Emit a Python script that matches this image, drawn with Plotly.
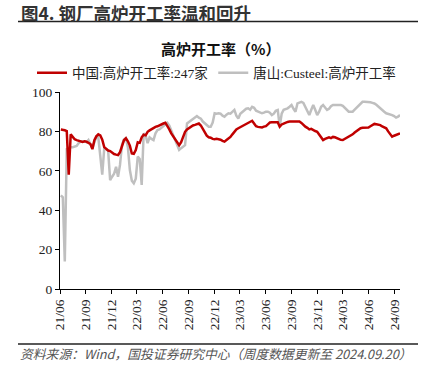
import pandas as pd
import plotly.graph_objects as go

dates = pd.date_range("2021-06-04", "2024-09-20", freq="7D")

china_247 = [
    81.0, 80.9, 80.6, 80.2, 58.0, 78.5, 77.2, 76.0, 75.6, 75.2,
    75.0, 74.6, 75.0, 74.8, 74.2, 73.6, 71.0, 75.5, 77.5, 78.5,
    78.0, 75.8, 72.0, 71.0, 70.3, 70.0, 69.2, 68.5, 68.2, 68.0,
    69.5, 72.5, 75.5, 76.5, 75.0, 72.8, 68.8, 68.6, 70.5, 74.5,
    74.2, 77.0, 78.3, 78.0, 79.8, 80.5, 81.2, 81.8, 82.3, 82.6,
    83.2, 83.5, 84.0, 84.4, 83.0, 81.0, 79.0, 77.5, 75.8, 74.3,
    73.0, 74.5, 77.5, 79.8, 81.0, 81.8, 82.4, 83.0, 83.3, 83.6,
    84.0, 83.0, 81.0, 79.0, 77.8, 77.0, 76.8, 76.2, 76.0, 76.2,
    76.0, 75.8, 75.2, 74.8, 75.6, 76.3, 77.2, 78.5, 80.0, 81.0,
    81.6, 82.2, 82.6, 83.2, 83.6, 84.3, 84.8, 85.4, 84.0, 82.6,
    82.3, 82.0, 82.0, 82.4, 82.7, 83.6, 84.5, 84.6, 84.6, 84.5,
    84.6, 82.4, 83.5, 84.0, 84.5, 84.8, 85.0, 85.0, 85.1, 84.9,
    85.0, 85.0, 84.3, 83.2, 82.4, 81.8, 81.0, 81.3, 80.6, 80.2,
    79.8, 78.5, 77.0, 75.6, 76.2, 76.8, 77.0, 76.6, 77.2, 77.0,
    76.5, 76.0, 75.7, 75.6, 76.2, 76.8, 77.3, 77.6, 78.5, 79.4,
    80.2, 81.0, 81.6, 81.8, 81.8, 82.0, 82.0, 82.6, 83.3, 83.8,
    83.6, 83.4, 83.2, 82.5, 82.0, 81.6, 80.0, 78.5, 77.3, 77.8,
    78.2, 78.6, 79.0,
]

tangshan = [
    47.5, 46.5, 14.0, 71.0, 71.5, 72.0, 72.0, 72.3, 72.6, 74.0,
    74.8, 75.0, 75.0, 74.5, 75.6, 73.5, 71.4, 74.5, 77.3, 77.0,
    68.0, 58.0, 71.4, 71.0, 70.0, 55.3, 57.0, 58.5, 62.0, 57.0,
    63.0, 73.1, 75.8, 76.5, 72.0, 60.4, 55.0, 53.7, 56.0, 67.2,
    66.0, 52.8, 79.0, 78.0, 74.0, 77.0, 76.2, 75.6, 79.0, 80.7,
    81.0, 81.8, 82.4, 83.3, 84.4, 83.0, 80.5, 79.0, 76.5, 73.0,
    70.6, 71.5, 72.5, 73.0, 84.0, 84.8, 85.8, 86.5, 87.3, 87.8,
    87.0, 86.5, 85.0, 84.1, 83.0, 82.4, 82.4, 84.5, 89.2, 89.0,
    89.2, 89.0, 88.0, 87.5, 88.5, 89.2, 89.0, 90.0, 90.9, 88.0,
    86.6, 89.0, 90.0, 91.0, 91.5, 91.7, 91.0, 92.5, 92.0, 90.5,
    90.0, 89.5, 89.2, 89.5, 90.0, 90.0, 89.5, 88.3, 89.0, 90.5,
    90.9, 82.4, 89.0, 91.0, 91.2, 91.7, 92.5, 93.4, 91.5, 90.0,
    94.2, 94.6, 95.0, 94.5, 92.5, 90.0, 88.3, 91.0, 93.4, 91.0,
    88.3, 90.0, 92.5, 93.4, 92.0, 90.9, 91.5, 92.8, 93.4, 93.4,
    93.4, 93.4, 93.4, 93.0, 92.0, 90.5, 90.0, 90.0, 90.0, 91.0,
    92.0, 93.0, 94.0, 95.0, 95.0, 95.0, 95.0, 94.8, 94.5, 94.2,
    93.5, 92.5, 91.5, 91.0, 90.0, 89.2, 89.0, 88.8, 88.3, 87.8,
    87.0, 87.5, 88.3,
]

x_tick_vals = pd.date_range("2021-06-01", "2024-09-01", freq="3MS")
x_tick_text = [d.strftime("%y/%m") for d in x_tick_vals]
y_tick_vals = [0, 20, 40, 60, 80, 100]

names = ["中国:高炉开工率:247家", "唐山:Custeel:高炉开工率"]
colors = ["#C00000", "#BFBFBF"]

serif = "Liberation Serif, Noto Sans CJK SC, serif"
cjk = "Noto Sans CJK SC, sans-serif"

W, H = 426, 377


def px(X):
    return (X - 60) / 340


def py(Y):
    return (289 - Y) / 197


fig = go.Figure()
fig.add_trace(go.Scatter(x=dates, y=tangshan, mode="lines", name=names[1],
                         line=dict(color=colors[1], width=2.5)))
fig.add_trace(go.Scatter(x=dates, y=china_247, mode="lines", name=names[0],
                         line=dict(color=colors[0], width=2.5)))

fig.update_layout(
    width=W, height=H,
    margin=dict(l=60, r=26, t=92, b=88, autoexpand=False),
    paper_bgcolor="white", plot_bgcolor="white",
    showlegend=True,
    legend=dict(orientation="h", x=px(32), xanchor="left", y=py(73), yanchor="middle",
                font=dict(family=serif, size=13.5, color="#222"),
                traceorder="reversed", itemwidth=30, bgcolor="rgba(0,0,0,0)"),
    xaxis=dict(range=["2021-06-01", "2024-09-20"], tickvals=x_tick_vals, ticktext=x_tick_text,
               tickangle=-90, showgrid=False, zeroline=False, showline=True, automargin=False,
               linecolor="black", linewidth=1.2, ticks="outside", ticklen=4,
               tickcolor="black", tickfont=dict(family=serif, size=13.5, color="#222")),
    yaxis=dict(range=[0, 100], tickvals=y_tick_vals, showgrid=False, zeroline=False,
               showline=True, linecolor="black", linewidth=1.2, ticks="outside", ticklen=4,
               automargin=False,
               tickcolor="black", tickfont=dict(family=serif, size=13.5, color="#222")),
)

fig.add_annotation(text="<b>图4. 钢厂高炉开工率温和回升</b>", xref="paper", yref="paper",
                   x=px(19), y=py(12.5), xanchor="left", yanchor="middle",
                   showarrow=False, font=dict(family=cjk, size=17.5, color="#333"))
fig.add_shape(type="line", xref="paper", yref="paper",
              x0=px(18), x1=px(418), y0=py(21.5), y1=py(21.5),
              line=dict(color="#222", width=1.5))
fig.add_annotation(text="<b>高炉开工率（%）</b>", xref="paper", yref="paper",
                   x=px(220), y=py(48), xanchor="center", yanchor="middle",
                   showarrow=False, font=dict(family=cjk, size=15, color="#111"))
fig.add_shape(type="line", xref="paper", yref="paper",
              x0=px(18), x1=px(418), y0=py(344), y1=py(344),
              line=dict(color="#222", width=1.5))
fig.add_annotation(text="<i>资料来源：Wind，国投证券研究中心（周度数据更新至 2024.09.20）</i>",
                   xref="paper", yref="paper",
                   x=px(18), y=py(353), xanchor="left", yanchor="middle",
                   showarrow=False, font=dict(family=cjk, size=12.8, color="#555"))

fig.write_html("out.html", config={"displayModeBar": False},
               post_script="document.body.style.margin='0';")
